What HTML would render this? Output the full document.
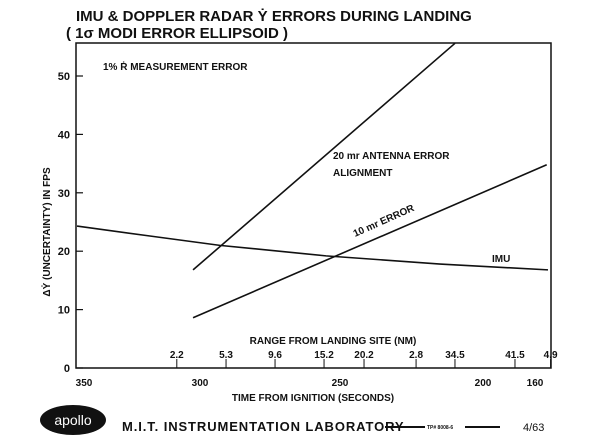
<!DOCTYPE html>
<html><head><meta charset="utf-8"><style>
body{margin:0;background:#fff;}
svg{display:block;font-family:"Liberation Sans",sans-serif;font-weight:bold;}
text{fill:#111;}
</style></head><body>
<svg id="chart" width="600" height="436" viewBox="0 0 600 436">
<text x="76" y="21" font-size="15">IMU &amp; DOPPLER RADAR Ẏ ERRORS DURING LANDING</text>
<text x="66" y="38" font-size="15">( 1σ  MODI ERROR ELLIPSOID )</text>
<rect x="76" y="43" width="475" height="325" fill="none" stroke="#111" stroke-width="1.5"/>
<text x="103" y="70" font-size="10">1%  Ṙ MEASUREMENT ERROR</text>
<text x="333" y="159" font-size="10">20 mr ANTENNA ERROR</text>
<text x="333" y="176" font-size="10">ALIGNMENT</text>
<text x="355" y="237" font-size="10" transform="rotate(-24 355 237)">10 mr ERROR</text>
<text x="492" y="262" font-size="10">IMU</text>
<text transform="translate(50 232) rotate(-90)" text-anchor="middle" font-size="10">ΔẎ (UNCERTAINTY) IN FPS</text>
<text x="333" y="344" text-anchor="middle" font-size="10">RANGE FROM LANDING SITE (NM)</text>
<text x="313" y="401" text-anchor="middle" font-size="10">TIME FROM IGNITION (SECONDS)</text>
<ellipse cx="73" cy="420" rx="33" ry="15" fill="#111"/>
<text x="73" y="425" text-anchor="middle" font-size="14" font-weight="normal" style="fill:#fff">apollo</text>
<text x="122" y="431" font-size="13" letter-spacing="0.9">M.I.T. INSTRUMENTATION LABORATORY</text>
<line x1="385" y1="427" x2="425" y2="427" stroke="#111" stroke-width="2"/>
<text x="427" y="429" font-size="5">TP# 8008-6</text>
<line x1="465" y1="427" x2="500" y2="427" stroke="#111" stroke-width="2"/>
<text x="523" y="431" font-size="11" font-weight="normal">4/63</text>
<g id="axes"></g><g id="series"></g>
</svg>
<script>
const timeTicks=[350,300,250,200,160];
const timeTickPx=[84,200,340,483,535];
const yTicks=[0,10,20,30,40,50];
const rangeLabels=["2.2","5.3","9.6","15.2","20.2","2.8","34.5","41.5","4.9"];
const rangeTimes=[310,290.7,273.2,255.7,241.6,223.4,209.8,175.4,148];
const imuTimes=[353,321.6,292.9,255,215,150];
const imuValues=[24.3,22.6,21,19.2,17.8,16.8];
const ant20Times=[303,209.8];
const ant20Values=[16.8,55.6];
const err10Times=[303,151];
const err10Values=[8.6,34.8];
const NS="http://www.w3.org/2000/svg";
function xs(t){
  for(let i=0;i<timeTicks.length-1;i++){
    const a=timeTicks[i],b=timeTicks[i+1];
    if(t>=b||i===timeTicks.length-2){
      if(t>a&&i>0) continue;
      return timeTickPx[i]+(t-a)/(b-a)*(timeTickPx[i+1]-timeTickPx[i]);
    }
  }
}
function ys(v){return 368-v*5.84;}
function mk(tag,attrs,parent){const e=document.createElementNS(NS,tag);for(const k in attrs)e.setAttribute(k,attrs[k]);parent.appendChild(e);return e;}
const ax=document.getElementById('axes'),se=document.getElementById('series');
yTicks.forEach(v=>{
  const l=mk('line',{x1:76,x2:83,y1:ys(v),y2:ys(v),stroke:'#111','stroke-width':1.2},ax);
  
  
  const t=mk('text',{x:70,y:ys(v)+4,'text-anchor':'end','font-size':11},ax);
  t.textContent=v;
  
  
});
timeTicks.forEach(v=>{
  const t=mk('text',{x:xs(v),y:386,'text-anchor':'middle','font-size':10},ax);
  t.textContent=v;
  
  
});
rangeLabels.forEach((s,i)=>{
  const x=xs(rangeTimes[i]);
  const l=mk('line',{x1:x,x2:x,y1:368,y2:359,stroke:'#111','stroke-width':1},ax);
  
  
  const t=mk('text',{x:x,y:358,'text-anchor':'middle','font-size':10},ax);
  t.textContent=s;
  
  
});
function line(ts,vs,name){
  const p=mk('polyline',{points:ts.map((t,i)=>xs(t)+','+ys(vs[i])).join(' '),fill:'none',stroke:'#111','stroke-width':1.6},se);
  
  
}
line(imuTimes,imuValues,'imu-line');
line(ant20Times,ant20Values,'antenna-20mr-line');
line(err10Times,err10Values,'error-10mr-line');
</script>
</body></html>
